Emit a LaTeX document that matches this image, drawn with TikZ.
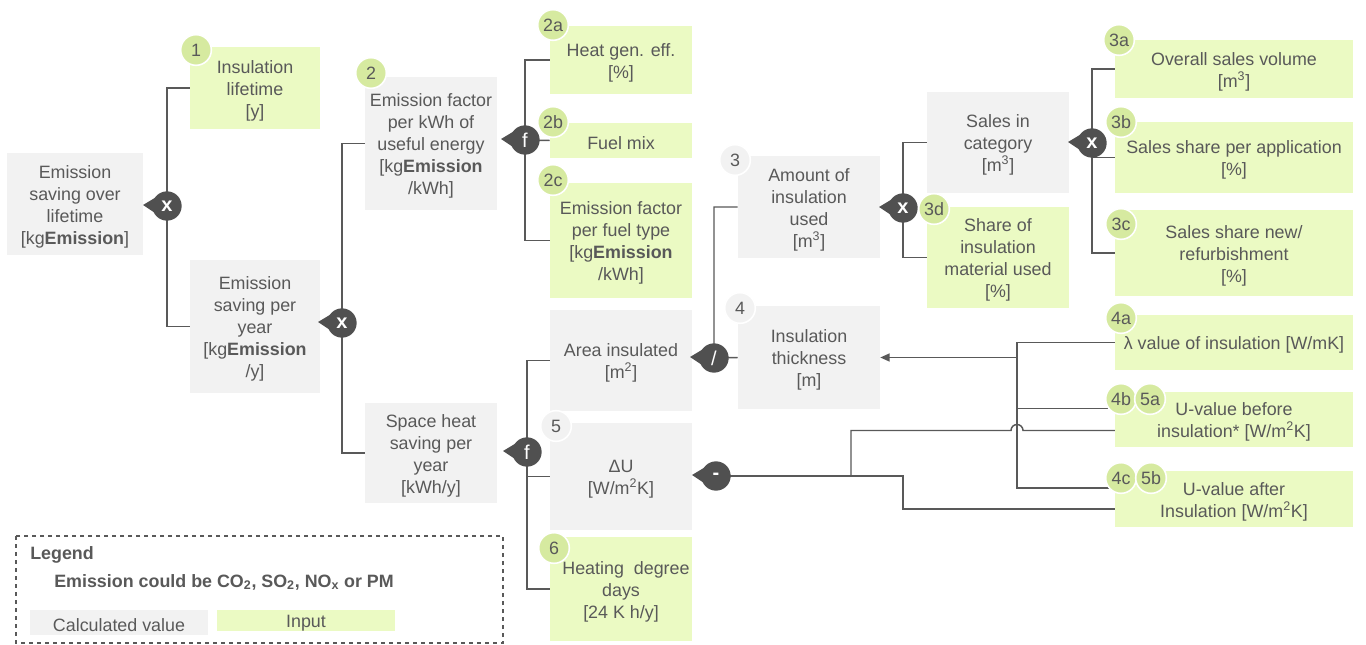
\documentclass[tikz,border=0pt]{standalone}
\usepackage{fontspec}
\setmainfont{Liberation Sans}
\usetikzlibrary{calc,arrows.meta}
\definecolor{txt}{HTML}{595959}
\definecolor{gbox}{HTML}{F2F2F2}
\definecolor{lbox}{HTML}{EBFAC3}
\definecolor{bdg}{HTML}{D6EAA0}
\definecolor{opc}{HTML}{505050}
\definecolor{lnc}{HTML}{595959}
\newcommand{\lbr}{[}
\newcommand{\mybox}[7]{%
  \pgfmathsetmacro\mybw{(#5-#3)*0.75}%
  \pgfmathsetmacro\mybh{(#6-#4)*0.75}%
  \node[#2, minimum width=\mybw pt, minimum height=\mybh pt] (#1) at ({(#3+#5)/2},{(#4+#6)/2}) {};
  \node[base, yshift=-2pt] (#1t) at (#1.center) {#7};}
\newcommand{\opnode}[3]{%
  \fill[opc] ($(#2)+(-24,-1)$) -- ($(#2)+(-9,-10)$) -- ($(#2)+(-9,9)$) -- cycle;
  \node[op] (#1) at (#2) {#3};}
\begin{document}
\begin{tikzpicture}[x=0.75pt,y=-0.75pt,
  base/.style={inner sep=0pt, align=center, text=txt, font=\fontsize{13.4}{16.5}\selectfont},
  calcbox/.style={inner sep=0pt, fill=gbox},
  inbox/.style={inner sep=0pt, fill=lbox},
  bgreen/.style={circle, fill=bdg, draw=white, line width=1.2pt, minimum size=23pt, inner sep=0pt, text=txt, font=\fontsize{13.4}{14}\selectfont},
  bgray/.style={bgreen, fill=gbox},
  op/.style={circle, fill=opc, minimum size=22pt, inner sep=0pt, text=white, font=\fontsize{15}{15}\selectfont\bfseries},
  conn/.style={draw=lnc, line width=1.1pt},
  legtext/.style={base, anchor=west, font=\fontsize{13.4}{15}\selectfont\bfseries}
]
\fill[white] (0,0) rectangle (1366,645);
\useasboundingbox (0,0) rectangle (1366,645);

% boxes
\mybox{A}{calcbox}{7}{153}{143}{255}{Emission\\saving over\\lifetime\\\lbr kg\textbf{Emission}]}
\mybox{B1}{inbox}{190}{47}{320}{129}{Insulation\\lifetime\\\lbr y]}
\mybox{B2}{calcbox}{190}{260}{320}{393}{Emission\\saving per\\year\\\lbr kg\textbf{Emission}\\/y]}
\mybox{C2}{calcbox}{365}{77}{497}{210}{Emission factor\\per kWh of\\useful energy\\\lbr kg\textbf{Emission}\\/kWh]}
\mybox{C3}{calcbox}{365}{403}{497}{503}{Space heat\\saving per\\year\\\lbr kWh/y]}
\mybox{D2a}{inbox}{550}{26}{692}{94}{Heat gen. eff.\\\lbr\%]}
\mybox{D2b}{inbox}{550}{123}{692}{158}{Fuel mix}
\mybox{D2c}{inbox}{550}{183}{692}{298}{Emission factor\\per fuel type\\\lbr kg\textbf{Emission}\\/kWh]}
\mybox{Ear}{calcbox}{550}{310}{692}{411}{Area insulated\\\lbr m\textsuperscript{2}]}
\mybox{E5}{calcbox}{550}{423}{692}{530}{ΔU\\\lbr W/m\textsuperscript{2}K]}
\mybox{E6}{inbox}{550}{537}{692}{641}{\ \ Heating\ \ degree\\days\\\lbr 24 K h/y]}
\mybox{F3}{calcbox}{738}{156}{880}{258}{Amount of\\insulation\\used\\\lbr m\textsuperscript{3}]}
\mybox{F4}{calcbox}{738}{306}{880}{409}{Insulation\\thickness\\\lbr m]}
\mybox{G1}{calcbox}{927}{92}{1069}{193}{Sales in\\category\\\lbr m\textsuperscript{3}]}
\mybox{G2}{inbox}{927}{207}{1069}{308}{Share of\\insulation\\material used\\\lbr\%]}
\mybox{H3a}{inbox}{1115}{40}{1353}{98}{Overall sales volume\\\lbr m\textsuperscript{3}]}
\mybox{H3b}{inbox}{1115}{122}{1353}{193}{Sales share per application\\\lbr\%]}
\mybox{H3c}{inbox}{1115}{210}{1353}{296}{Sales share new/\\refurbishment\\\lbr\%]}
\mybox{I4a}{inbox}{1115}{315}{1353}{370}{λ value of insulation [W/mK]}
\mybox{I4b}{inbox}{1115}{392}{1353}{447}{U-value before\\insulation* [W/m\textsuperscript{2}K]}
\mybox{I4c}{inbox}{1115}{471}{1353}{527}{U-value after\\Insulation [W/m\textsuperscript{2}K]}

% operator positions
\coordinate (c1) at (167,206);
\coordinate (c2) at (342,323);
\coordinate (c3) at (525,140);
\coordinate (c4) at (527,452);
\coordinate (c5) at (714,358);
\coordinate (c6) at (903,208);
\coordinate (c7) at (1092,143);
\coordinate (c8) at (716,476);
\coordinate (jx) at (1017,0);
\coordinate (kx) at (903,0);
\coordinate (k2) at (851,0);
\coordinate (p4b) at ($(I4b.west)+(0,-11)$);
\coordinate (p5a) at ($(I4b.west)+(0,11)$);
\coordinate (p4c) at ($(I4c.west)+(0,-11)$);
\coordinate (p5b) at ($(I4c.west)+(0,10)$);

% connectors
\draw[conn] (B1.west) -| (c1) |- (B2.west);
\draw[conn] (C2.west) -| (c2) |- (C3.west);
\draw[conn] (D2a.west) -| (c3) |- (D2c.west);
\draw[conn] (c3) -- (D2b.west);
\draw[conn] (Ear.west) -| (c4) |- (E6.west);
\draw[conn] (c4) |- (E5.west);
\draw[conn] (F3.west) -| (c5) -- (F4.west);
\draw[conn] (G1.west) -| (c6) |- (G2.west);
\draw[conn] (H3a.west) -| (c7) |- (H3c.west);
\draw[conn] (c7) |- (H3b.west);
\draw[conn] (I4a.west) -| (p4c -| jx) -- (p4c);
\draw[conn] (p4b -| jx) -- (p4b);
\draw[conn, -{Triangle[length=7pt,width=6pt]}] (F4.east -| jx) -- (F4.east);
\draw[conn] (c8) -| (p5b -| kx) -- (p5b);
\draw[conn] (c8 -| k2) |- ($(p5a -| jx)+(-6,0)$) arc[start angle=180,end angle=0,radius=4.5pt] -- (p5a);

% operators
\opnode{o1}{c1}{x}
\opnode{o2}{c2}{x}
\opnode{o3}{c3}{\mdseries f}
\opnode{o4}{c4}{\mdseries f}
\opnode{o5}{c5}{\mdseries /}
\opnode{o6}{c6}{x}
\opnode{o7}{c7}{x}
\opnode{o8}{c8}{-}

% badges
\node[bgreen] (n1) at (196,50) {1};
\node[bgreen] (n2) at (371,73) {2};
\node[bgreen] (n2a) at (553,25) {2a};
\node[bgreen] (n2b) at (553,122) {2b};
\node[bgreen] (n2c) at (553,180) {2c};
\node[bgray] (n3) at (735,160) {3};
\node[bgray] (n4) at (740,308) {4};
\node[bgray] (n5) at (556,426) {5};
\node[bgreen] (n6) at (554,548) {6};
\node[bgreen] (n3d) at (934,209) {3d};
\node[bgreen] (n3a) at (1119,40) {3a};
\node[bgreen] (n3b) at (1121,122) {3b};
\node[bgreen] (n3c) at (1121,224) {3c};
\node[bgreen] (n4a) at (1121,318) {4a};
\node[bgreen] (n4b) at (1121,399) {4b};
\node[bgreen] (n5a) at (1150,399) {5a};
\node[bgreen] (n4c) at (1121,478) {4c};
\node[bgreen] (n5b) at (1151,478) {5b};

% legend
\draw[lnc, dashed, line width=0.9pt] (16,536) rectangle (503,643);
\node[legtext] (lg) at (30,555) {Legend};
\node[legtext] (lg2) at (54,582) {Emission could be CO\textsubscript{2}, SO\textsubscript{2}, NO\textsubscript{x} or PM};
\mybox{L1}{calcbox}{30}{610}{208}{635}{Calculated value}
\mybox{L2}{inbox}{217}{610}{395}{631}{Input}
\end{tikzpicture}
\end{document}
